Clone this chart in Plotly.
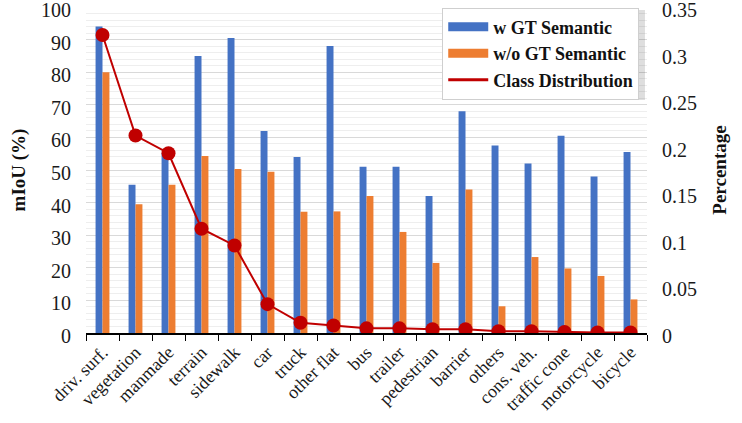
import plotly.graph_objects as go

categories = ["driv. surf.", "vegetation", "manmade", "terrain", "sidewalk", "car", "truck",
              "other flat", "bus", "trailer", "pedestrian", "barrier", "others", "cons. veh.",
              "traffic cone", "motorcycle", "bicycle"]
w_gt = [94, 45.5, 55.2, 85, 90.5, 62, 54, 88, 51, 51, 42, 68, 57.5, 52, 60.5, 48, 55.5]
wo_gt = [80, 39.5, 45.5, 54.3, 50.3, 49.5, 37.2, 37.3, 42, 31, 21.5, 44, 8.2, 23.3, 19.8, 17.5, 10.3]
class_dist = [0.32, 0.212, 0.193, 0.112, 0.094, 0.031, 0.011, 0.008, 0.005, 0.005, 0.004,
              0.004, 0.002, 0.002, 0.001, 0.0005, 0.0005]
y_ticks = [0, 10, 20, 30, 40, 50, 60, 70, 80, 90, 100]
y2_ticks = [0, 0.05, 0.1, 0.15, 0.2, 0.25, 0.3, 0.35]
y2_labels = ["0", "0.05", "0.1", "0.15", "0.2", "0.25", "0.3", "0.35"]

FONT = "Liberation Serif, Times New Roman, serif"
TXT = "#1a1a1a"
BLUE, ORANGE, RED = "#4472C4", "#ED7D31", "#C00000"

fig = go.Figure()
fig.add_trace(go.Bar(x=categories, y=w_gt, name="w GT Semantic", marker_color=BLUE,
                     marker_line_width=0, showlegend=False))
fig.add_trace(go.Bar(x=categories, y=wo_gt, name="w/o GT Semantic", marker_color=ORANGE,
                     marker_line_width=0, showlegend=False))
fig.add_trace(go.Scatter(x=categories, y=class_dist, name="Class Distribution", yaxis="y2",
                         mode="lines+markers", line=dict(color=RED, width=2),
                         marker=dict(color=RED, size=14), showlegend=False))
# legend-only entries (wide rectangle / line symbols)
for nm, col, w in [("w GT Semantic", BLUE, 9), ("w/o GT Semantic", ORANGE, 9),
                   ("Class Distribution", RED, 3)]:
    fig.add_trace(go.Scatter(x=[categories[0]], y=[None], name=nm, yaxis="y2",
                             mode="lines", line=dict(color=col, width=w)))

fig.update_layout(
    width=742, height=423,
    margin=dict(l=86, r=95, t=7, b=90, autoexpand=False),
    paper_bgcolor="white", plot_bgcolor="white",
    font=dict(family=FONT, color=TXT, size=16),
    barmode="group", bargap=0.58, bargroupgap=0,
    showlegend=True,
    legend=dict(x=0.635, y=0.998, xanchor="left", yanchor="top",
                bgcolor="white", bordercolor="#cfcfcf", borderwidth=1,
                font=dict(family=FONT, size=18, color="#111", weight="bold"),
                itemwidth=40, tracegroupgap=0, traceorder="normal"),
    xaxis=dict(range=[-0.5, len(categories) - 0.5], showline=True, linecolor="black",
               linewidth=1.5, ticks="outside",
               tickson="boundaries", ticklen=6, tickcolor="black", tickangle=-45,
               tickfont=dict(size=18, family=FONT, color=TXT), showgrid=False,
               automargin=False),
    yaxis=dict(range=[0, 100], tickvals=y_ticks, showgrid=True, gridcolor="#d9d9d9", gridwidth=1,
               minor=dict(dtick=2, showgrid=True, gridcolor="#eeeeee"),
               tickfont=dict(size=20, family=FONT, color=TXT), zeroline=False,
               automargin=False, ticklabeloverflow="allow", ticklabelshift=3,
               ticklabelstandoff=14,
               title=dict(text="<b>mIoU (%)</b>", font=dict(size=19, family=FONT, color="#111"),
                          standoff=10)),
    yaxis2=dict(range=[0, 0.35], tickvals=y2_ticks, ticktext=y2_labels, overlaying="y",
                side="right", showgrid=False, automargin=False, ticklabeloverflow="allow",
                ticklabelshift=3, ticklabelstandoff=14,
                tickfont=dict(size=20, family=FONT, color=TXT), zeroline=False,
                title=dict(text="<b>Percentage</b>", font=dict(size=19, family=FONT, color="#111"),
                           standoff=16)),
)
# soft legend shadow
fig.add_shape(type="rect", xref="paper", yref="paper", x0=0.6417, x1=0.9964, y0=0.7147,
              y1=0.9908, fillcolor="rgba(0,0,0,0.13)", line_width=0, layer="above")

fig.write_html("out.html", config={"displayModeBar": False},
               post_script="document.body.style.margin='0';")
